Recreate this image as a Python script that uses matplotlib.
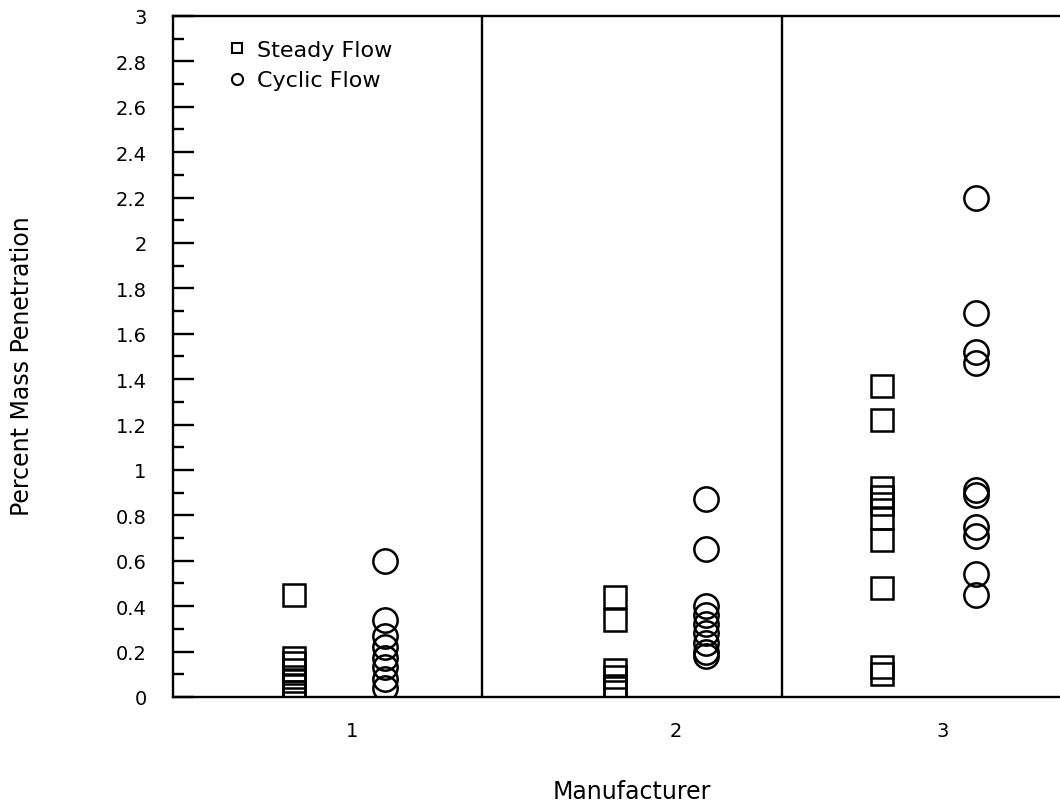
import numpy as np
import matplotlib.pyplot as plt
from matplotlib.lines import Line2D
from matplotlib.ticker import MultipleLocator, FuncFormatter

# percent mass penetration, one list per manufacturer
manufacturers = ["1", "2", "3"]
steady_1 = [0.45, 0.17, 0.15, 0.12, 0.09, 0.07, 0.05, 0.02, 0.01]
cyclic_1 = [0.60, 0.34, 0.27, 0.22, 0.17, 0.13, 0.08, 0.04]
steady_2 = [0.44, 0.34, 0.12, 0.09, 0.05, 0.04]
cyclic_2 = [0.87, 0.65, 0.40, 0.36, 0.32, 0.28, 0.24, 0.20, 0.18]
steady_3 = [1.37, 1.22, 0.92, 0.88, 0.85, 0.79, 0.69, 0.48, 0.13, 0.10]
cyclic_3 = [2.20, 1.69, 1.52, 1.47, 0.91, 0.89, 0.75, 0.71, 0.54, 0.45]

steady = [steady_1, steady_2, steady_3]
cyclic = [cyclic_1, cyclic_2, cyclic_3]

# hand-drawn layout: each group sits a bit off its panel centre
square_off = [-0.10, -0.04, -0.16]
circle_off = [0.20, 0.26, 0.15]
label_off = [0.09, 0.16, 0.04]
dividers = [1.52, 2.51]

plt.rcParams['font.family'] = ['DejaVu Sans']

fig = plt.figure(figsize=(10.6, 8.12), dpi=100)
ax = fig.add_axes([0.1632, 0.1404, 0.8575, 0.8387])

for i, m in enumerate(manufacturers):
    xs = int(m) + square_off[i]
    xc = int(m) + circle_off[i]
    ax.plot([xs] * len(steady[i]), steady[i], ls='none', marker='s', ms=16,
            mfc='none', mec='black', mew=1.8)
    ax.plot([xc] * len(cyclic[i]), cyclic[i], ls='none', marker='o', ms=17.5,
            mfc='none', mec='black', mew=1.8)

for d in dividers:
    ax.axvline(d, color='black', lw=1.7)

ax.set_xlim(0.5, 3.5)
ax.set_ylim(0, 3)

ax.yaxis.set_major_locator(MultipleLocator(0.2))
ax.yaxis.set_minor_locator(MultipleLocator(0.1))
ax.yaxis.set_major_formatter(FuncFormatter(lambda v, p: '%g' % round(v, 1)))
ax.tick_params(axis='y', which='major', direction='in', length=15, width=1.7,
               labelsize=14, pad=19)
ax.tick_params(axis='y', which='minor', direction='in', length=8, width=1.7)

ax.set_xticks([int(m) + o for m, o in zip(manufacturers, label_off)])
ax.set_xticklabels(manufacturers)
ax.tick_params(axis='x', length=0, labelsize=14, pad=17)

for s in ax.spines.values():
    s.set_linewidth(1.7)

ax.set_xlabel('Manufacturer', fontsize=17, va='center')
ax.xaxis.set_label_coords(0.505, -0.138)
ax.set_ylabel('Percent Mass Penetration', fontsize=17, ha='center', va='center')
ax.yaxis.set_label_coords(-0.1665, 0.4875)

handles = [
    Line2D([], [], ls='none', marker='s', ms=7.5, mfc='none', mec='black', mew=1.5),
    Line2D([], [], ls='none', marker='o', ms=8, mfc='none', mec='black', mew=1.5),
]
ax.legend(handles, ['Steady Flow', 'Cyclic Flow'], loc='upper left',
          bbox_to_anchor=(0.0587, 0.965), frameon=False, fontsize=16,
          borderpad=0, borderaxespad=0, handlelength=1.0, handletextpad=0.38,
          labelspacing=0.48)

fig.savefig('out.png', dpi=100)
